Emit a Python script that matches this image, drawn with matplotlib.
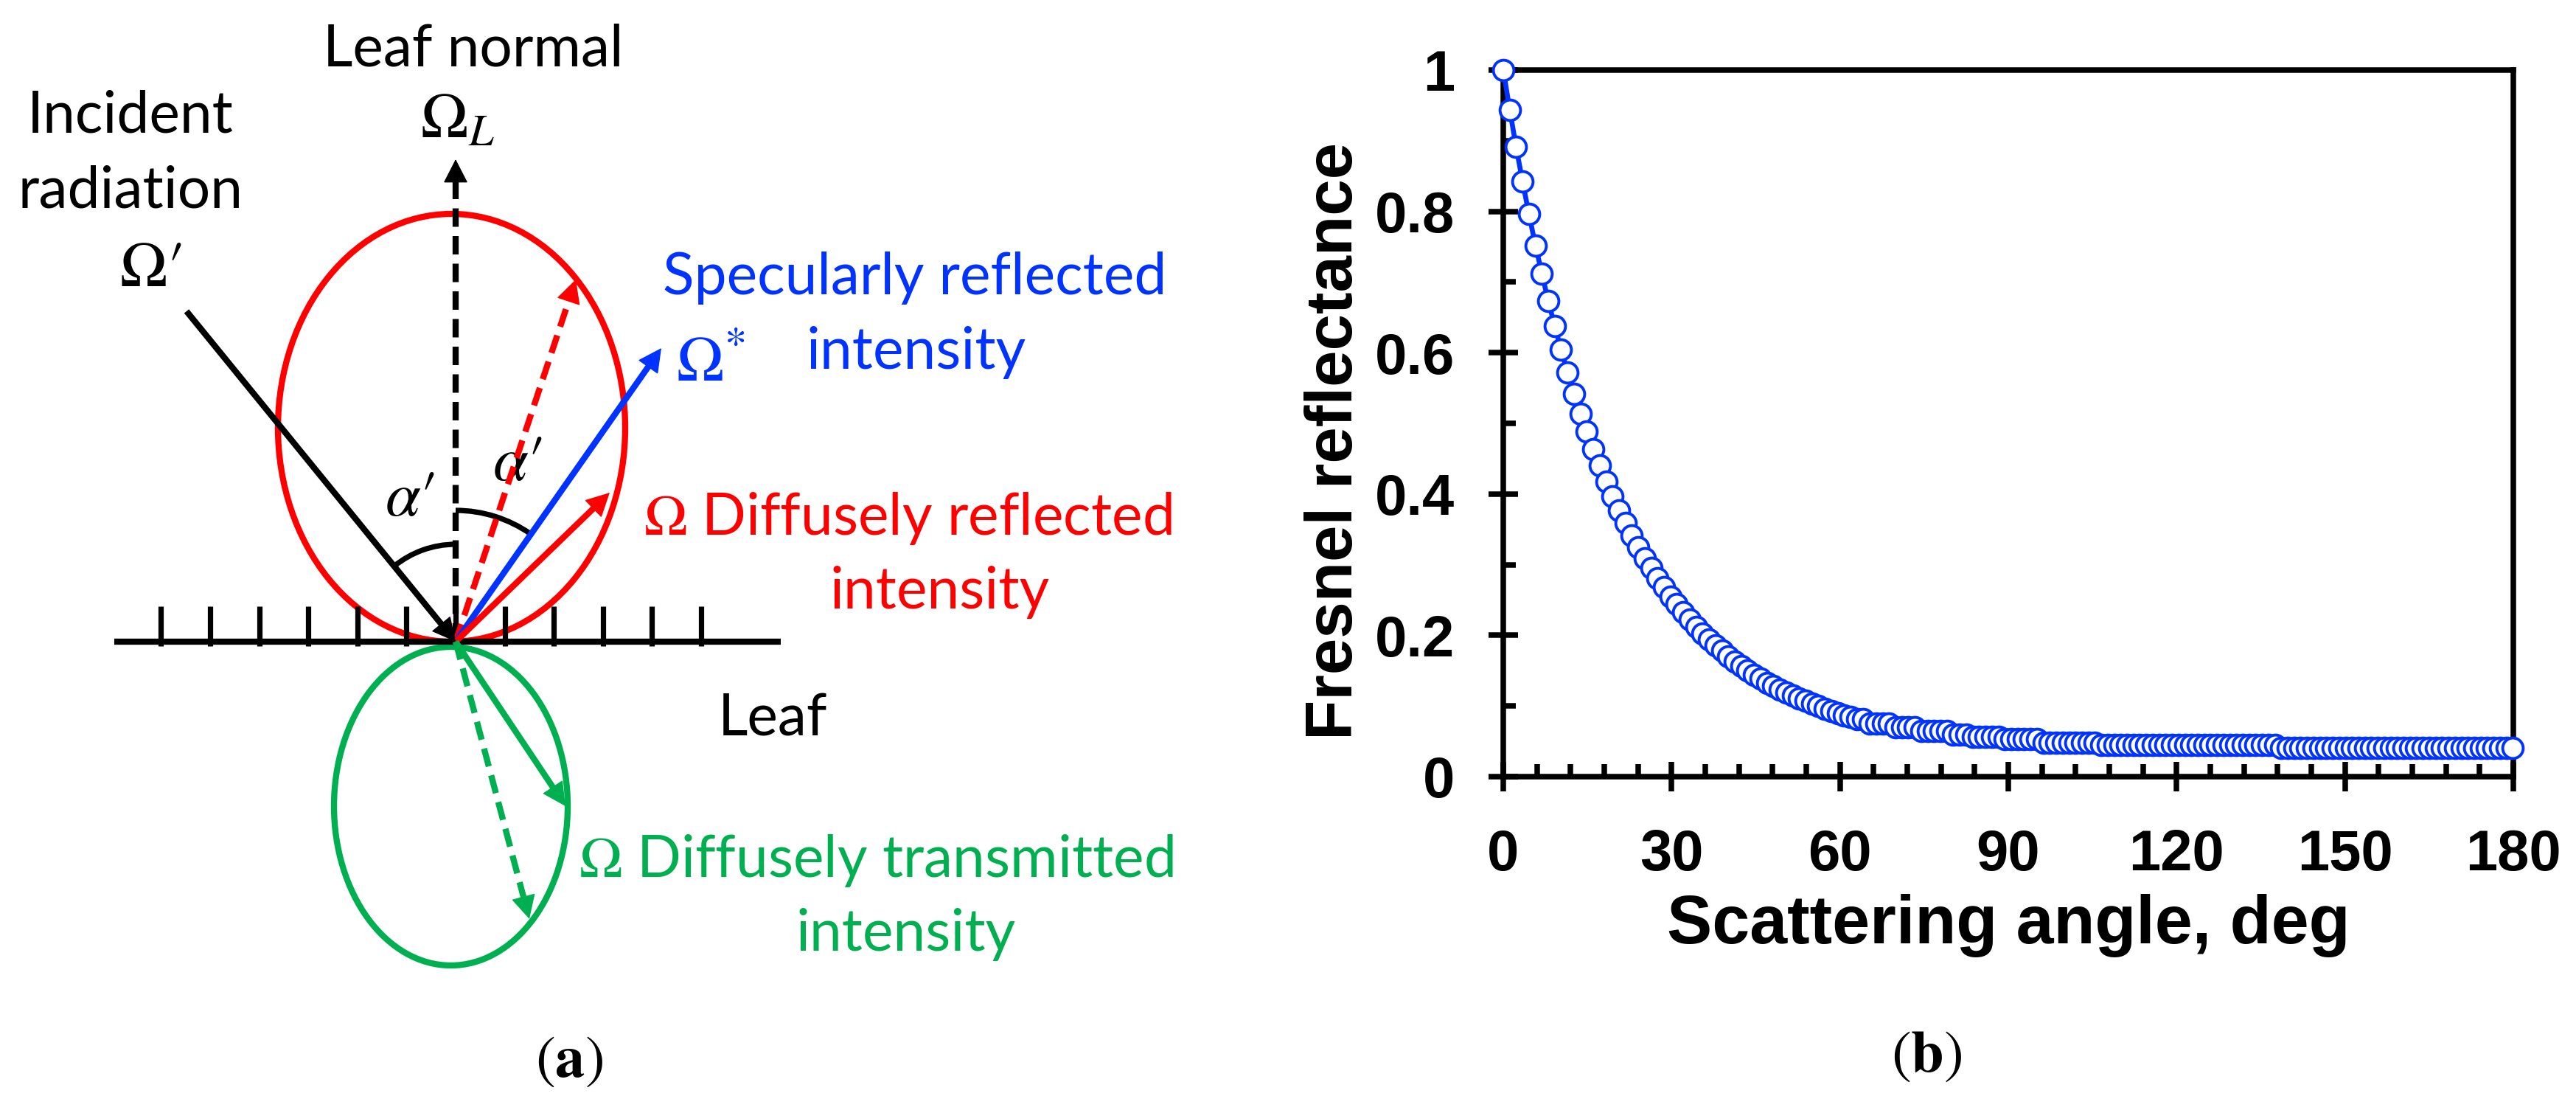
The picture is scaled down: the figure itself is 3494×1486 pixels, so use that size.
import matplotlib
matplotlib.use('Agg')
import matplotlib.pyplot as plt
from matplotlib.patches import Ellipse, Arc, FancyArrowPatch
import numpy as np

plt.rcParams['mathtext.fontset'] = 'stix'

# ---------------- data (panel b) ----------------
scatter_angle = [
    0.00, 1.15, 2.29, 3.44, 4.58, 5.73, 6.88, 8.02, 9.17, 10.31,
    11.46, 12.61, 13.75, 14.90, 16.04, 17.19, 18.33, 19.48, 20.63, 21.77,
    22.92, 24.06, 25.21, 26.36, 27.50, 28.65, 29.79, 30.94, 32.09, 33.23,
    34.38, 35.52, 36.67, 37.82, 38.96, 40.11, 41.25, 42.40, 43.54, 44.69,
    45.84, 46.98, 48.13, 49.27, 50.42, 51.57, 52.71, 53.86, 55.00, 56.15,
    57.30, 58.44, 59.59, 60.73, 61.88, 63.03, 64.17, 65.32, 66.46, 67.61,
    68.75, 69.90, 71.05, 72.19, 73.34, 74.48, 75.63, 76.78, 77.92, 79.07,
    80.21, 81.36, 82.51, 83.65, 84.80, 85.94, 87.09, 88.24, 89.38, 90.53,
    91.67, 92.82, 93.97, 95.11, 96.26, 97.40, 98.55, 99.69, 100.84, 101.99,
    103.13, 104.28, 105.42, 106.57, 107.72, 108.86, 110.01, 111.15, 112.30, 113.45,
    114.59, 115.74, 116.88, 118.03, 119.18, 120.32, 121.47, 122.61, 123.76, 124.90,
    126.05, 127.20, 128.34, 129.49, 130.63, 131.78, 132.93, 134.07, 135.22, 136.36,
    137.51, 138.66, 139.80, 140.95, 142.09, 143.24, 144.39, 145.53, 146.68, 147.82,
    148.97, 150.11, 151.26, 152.41, 153.55, 154.70, 155.84, 156.99, 158.14, 159.28,
    160.43, 161.57, 162.72, 163.87, 165.01, 166.16, 167.30, 168.45, 169.60, 170.74,
    171.89, 173.03, 174.18, 175.33, 176.47, 177.62, 178.76, 179.91,
]
fresnel_reflectance = [
    1.000, 0.944, 0.891, 0.842, 0.796, 0.752, 0.712, 0.673, 0.638, 0.604,
    0.572, 0.542, 0.514, 0.488, 0.463, 0.440, 0.418, 0.397, 0.377, 0.359,
    0.341, 0.325, 0.309, 0.295, 0.281, 0.268, 0.255, 0.244, 0.233, 0.222,
    0.212, 0.203, 0.194, 0.186, 0.178, 0.170, 0.163, 0.157, 0.150, 0.144,
    0.139, 0.133, 0.128, 0.123, 0.119, 0.115, 0.111, 0.107, 0.103, 0.100,
    0.096, 0.093, 0.090, 0.087, 0.085, 0.081, 0.081, 0.0755, 0.0755, 0.0755,
    0.0755, 0.070, 0.070, 0.070, 0.070, 0.065, 0.065, 0.065, 0.065, 0.065,
    0.060, 0.060, 0.060, 0.056, 0.056, 0.056, 0.056, 0.056, 0.053, 0.053,
    0.053, 0.053, 0.053, 0.053, 0.048, 0.048, 0.048, 0.048, 0.048, 0.048,
    0.048, 0.048, 0.048, 0.045, 0.045, 0.045, 0.045, 0.045, 0.045, 0.045,
    0.045, 0.045, 0.045, 0.045, 0.045, 0.045, 0.045, 0.045, 0.045, 0.045,
    0.045, 0.045, 0.045, 0.045, 0.045, 0.045, 0.045, 0.045, 0.045, 0.045,
    0.045, 0.041, 0.041, 0.041, 0.041, 0.041, 0.041, 0.041, 0.041, 0.041,
    0.041, 0.041, 0.041, 0.041, 0.041, 0.041, 0.041, 0.041, 0.041, 0.041,
    0.041, 0.041, 0.041, 0.041, 0.041, 0.041, 0.041, 0.041, 0.041, 0.041,
    0.041, 0.041, 0.041, 0.041, 0.041, 0.041, 0.041, 0.041,
]
x_ticks = [0, 30, 60, 90, 120, 150, 180]
y_ticks = [0, 0.2, 0.4, 0.6, 0.8, 1.0]
y_tick_labels = ['0', '0.2', '0.4', '0.6', '0.8', '1']
x_label = 'Scattering angle, deg'
y_label = 'Fresnel reflectance'

# ---------------- figure ----------------
W, H = 3494, 1486
DPI = 200
fig = plt.figure(figsize=(W / DPI, H / DPI), dpi=DPI)

RED = '#FF0000'
BLUE = '#0033FF'
BLUE_TXT = '#0033FF'
GREEN = '#00B050'
TXT_FONT = 'Lato'
TXT_SIZE = 28.3
MATH_SIZE = 31
LW = 3.0

# ---------------- panel (a): schematic ----------------
OX, OY = 618, 870           # leaf point in pixel coordinates of the figure
LW_PANEL = 1700
ax0 = fig.add_axes([0, 0, LW_PANEL / W, 1])
ax0.set_xlim(-OX, LW_PANEL - OX)
ax0.set_ylim(OY - H, OY)
ax0.axis('off')

def arrow(tip, color, lw, dashed=False, start=(0.0, 0.0), head_len=28, z=4):
    sx, sy = start
    tx, ty = tip
    d = np.hypot(tx - sx, ty - sy)
    ux, uy = (tx - sx) / d, (ty - sy) / d
    bx, by = tx - ux * head_len, ty - uy * head_len
    ls = (0, (3.0, 1.5)) if dashed else '-'
    ax0.plot([sx, bx + ux * 3], [sy, by + uy * 3], color=color, lw=lw, ls=ls,
             solid_capstyle='butt', dash_capstyle='butt', zorder=z)
    ax0.add_patch(FancyArrowPatch((bx, by), (tx, ty),
                                  arrowstyle='-|>,head_length=10.5,head_width=5.4',
                                  mutation_scale=1, color=color, lw=0.5,
                                  shrinkA=0, shrinkB=0, zorder=z + 0.1))

# lobes
ax0.add_patch(Ellipse((-5.5, 290), 471, 580, fill=False, ec=RED, lw=LW, zorder=2))
ax0.add_patch(Ellipse((-6.5, -223), 317, 432, fill=False, ec=GREEN, lw=LW, zorder=2))

# leaf surface with hairs
ax0.plot([-463, 441], [0, 0], color='k', lw=3.0, solid_capstyle='butt', zorder=3)
for j in range(-6, 6):
    tx = 66.6 * j
    ax0.plot([tx, tx], [-6, 48], color='k', lw=2.6, solid_capstyle='butt', zorder=3)

# arrows
arrow((0, 654), 'k', LW, dashed=True)
arrow((0, 0), 'k', LW, start=(-365, 448))
arrow((163, 491), RED, LW, dashed=True)
arrow((279, 398), BLUE, LW)
arrow((209, 202), RED, LW)
arrow((149, -223), GREEN, LW)
arrow((100, -376), GREEN, LW, dashed=True)

# angle arcs
ax0.add_patch(Arc((0, 0), 264, 264, theta1=90, theta2=129.2, color='k', lw=2.6, zorder=3))
ax0.add_patch(Arc((0, 0), 356, 356, theta1=55, theta2=90, color='k', lw=2.6, zorder=3))

# texts
tk = dict(fontfamily=TXT_FONT, fontsize=TXT_SIZE)
ax0.text(24, 781, 'Leaf normal', ha='center', va='baseline', color='k', **tk)
ax0.text(3, 707, r'$\Omega_L$', ha='center', va='center', color='k', fontsize=MATH_SIZE)
ax0.text(-441, 691, 'Incident', ha='center', va='baseline', color='k', **tk)
ax0.text(-441, 589, 'radiation', ha='center', va='baseline', color='k', **tk)
ax0.text(-414, 506, r'$\Omega\prime$', ha='center', va='center', color='k', fontsize=MATH_SIZE)
ax0.text(-62, 194, r'$\alpha\prime$', ha='center', va='center', color='k', fontsize=MATH_SIZE)
ax0.text(84, 242, r'$\alpha\prime$', ha='center', va='center', color='k', fontsize=MATH_SIZE)
ax0.text(623, 471, 'Specularly reflected', ha='center', va='baseline', color=BLUE_TXT, **tk)
ax0.text(625, 370, 'intensity', ha='center', va='baseline', color=BLUE_TXT, **tk)
ax0.text(299, 353, r'$\Omega^{*}$', ha='left', va='baseline', color=BLUE_TXT, fontsize=MATH_SIZE)
ax0.text(255, 145, r'$\Omega$ Diffusely reflected', ha='left', va='baseline', color=RED, **tk)
ax0.text(657, 45, 'intensity', ha='center', va='baseline', color=RED, **tk)
ax0.text(430, -128, 'Leaf', ha='center', va='baseline', color='k', **tk)
ax0.text(167, -319, r'$\Omega$ Diffusely transmitted', ha='left', va='baseline', color=GREEN, **tk)
ax0.text(611, -419, 'intensity', ha='center', va='baseline', color=GREEN, **tk)
ax0.text(154, -568, r'$(\mathbf{a})$', ha='center', va='center', color='k', fontsize=29)

# ---------------- panel (b): Fresnel reflectance ----------------
L, R, T, B = 2039, 3409, 95, 1053
ax = fig.add_axes([L / W, 1 - B / H, (R - L) / W, (B - T) / H])
ax.plot(scatter_angle, fresnel_reflectance, color=BLUE, lw=2.4, marker='o',
        markersize=10, markerfacecolor='white', markeredgecolor=BLUE,
        markeredgewidth=1.4, clip_on=False, zorder=5)
ax.set_xlim(0, 180)
ax.set_ylim(0, 1)
ax.set_xticks(x_ticks)
ax.set_xticks(np.arange(0, 181, 6), minor=True)
ax.set_yticks(y_ticks)
ax.set_yticklabels(y_tick_labels)
ax.set_yticks(np.arange(0, 1.001, 0.1), minor=True)
for s in ax.spines.values():
    s.set_linewidth(2.7)
ax.tick_params(which='major', direction='inout', length=14.4, width=2.7, pad=18)
ax.tick_params(axis='y', which='major', pad=16.5)
ax.tick_params(which='minor', direction='in', length=6, width=2.7)
for lab in ax.get_xticklabels() + ax.get_yticklabels():
    lab.set_fontfamily('Liberation Sans')
    lab.set_fontweight('bold')
    lab.set_fontsize(28)

fig.text(2724 / W, 1 - 1279 / H, x_label, ha='center', va='baseline',
         fontfamily='Liberation Sans', fontweight='bold', fontsize=33)
fig.text(1811 / W, 1 - 598 / H, y_label, ha='center', va='center', rotation=90,
         fontfamily='Liberation Sans', fontweight='bold', fontsize=32)
fig.text(2613 / W, 1 - 1431 / H, r'$(\mathbf{b})$', ha='center', va='center',
         fontsize=29)

fig.savefig('out.png', dpi=DPI)
